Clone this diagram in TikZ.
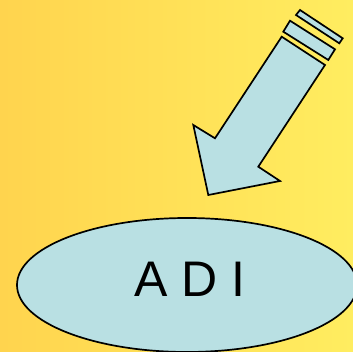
\documentclass[tikz,border=0pt]{standalone}
\usepackage{fontspec}
\setmainfont{Liberation Sans}
\usetikzlibrary{shapes.geometric}
\definecolor{bgleft}{HTML}{FFD44E}
\definecolor{bgright}{HTML}{FFED60}
\definecolor{lblue}{HTML}{B9E0E3}
\tikzset{
  blockpart/.style={draw=black, fill=lblue, line width=1.7pt, line join=miter},
  oval/.style={ellipse, draw=black, fill=lblue, line width=1.7pt, inner sep=0pt,
    minimum width=340pt, minimum height=134pt}
}
\begin{document}
\begin{tikzpicture}[x=1pt,y=-1pt]
\useasboundingbox (0,0) rectangle (353,352);
\shade[left color=bgleft, right color=bgright] (0,0) rectangle (353,352);
% arrow
\draw[blockpart] (208.3,195) -- (193.3,125) -- (215,138.3) -- (281.7,36.7)
  -- (325,65) -- (258.3,166.7) -- (280,181) -- cycle;
\draw[blockpart] (290,20.7) -- (335,49.3) -- (328.3,60) -- (283.3,31.7) -- cycle;
\draw[blockpart] (300,10) -- (342.7,38.3) -- (339.3,43.3) -- (296,15) -- cycle;
% ellipse
\node[oval] (adi) at (187,285) {};
\node[font=\fontsize{50}{50}\selectfont] (lbl) at (190,279.5) {A D I};
\end{tikzpicture}
\end{document}
